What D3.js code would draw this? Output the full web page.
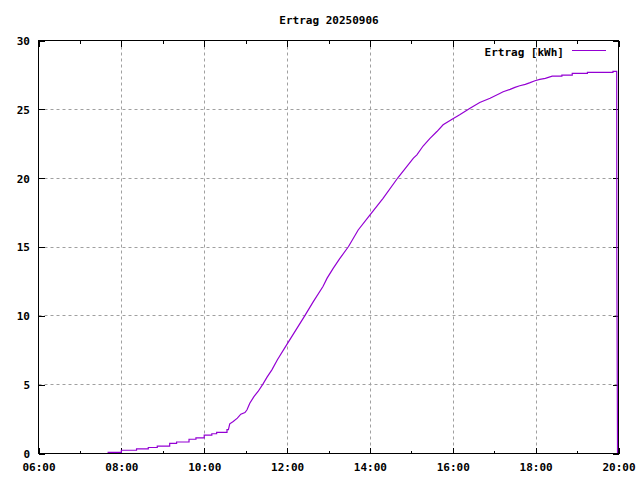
<!DOCTYPE html>
<html>
<head>
<meta charset="utf-8">
<script src="https://cdn.jsdelivr.net/npm/d3@7"></script>
<style>
  html, body { margin: 0; padding: 0; background: #fff; }
  svg { display: block; }
  text { font-family: "DejaVu Sans Mono", monospace; font-weight: bold; font-size: 11px; fill: #000; }
</style>
</head>
<body>
<svg id="chart" width="640" height="480"></svg>
<script>
const title = "Ertrag 20250906";
const seriesName = "Ertrag [kWh]";
const xTickLabels = ["06:00","08:00","10:00","12:00","14:00","16:00","18:00","20:00"];
const xMinorTicks = ["07:00","09:00","11:00","13:00","15:00","17:00","19:00"];
const yTickLabels = [0, 5, 10, 15, 20, 25, 30];

const times = ["07:40","08:00","08:00","08:22","08:22","08:39","08:39","08:52","08:52","09:10",
  "09:10","09:20","09:20","09:38","09:38","09:48","09:48","10:00","10:00","10:11",
  "10:11","10:18","10:18","10:33","10:33","10:35","10:37","10:42","10:48","10:53",
  "10:59","11:02","11:06","11:12","11:18","11:25","11:31","11:38","11:46","12:00",
  "12:26","12:38","12:52","12:58","13:07","13:16","13:29","13:43","13:59","14:19",
  "14:41","15:03","15:08","15:17","15:27","15:37","15:46","15:59","16:10","16:25",
  "16:39","16:54","17:08","17:13","17:23","17:30","17:37","17:45","17:52","17:59",
  "18:06","18:14","18:24","18:38","18:38","18:53","18:53","19:15","19:15","19:52",
  "19:52","19:57:25","19:57:35","19:58:35"];
const values = [0.05,0.05,0.2,0.2,0.3,0.3,0.4,0.4,0.5,0.5,
  0.7,0.7,0.8,0.8,1.0,1.0,1.1,1.1,1.3,1.3,
  1.4,1.4,1.5,1.5,1.7,1.7,2.12,2.29,2.53,2.82,
  2.94,3.14,3.62,4.10,4.47,5.0,5.51,6.04,6.77,7.91,
  10.0,11.0,12.09,12.7,13.43,14.1,15.0,16.2,17.23,18.5,
  20.03,21.42,21.66,22.3,22.85,23.35,23.84,24.25,24.57,25.05,
  25.46,25.77,26.12,26.24,26.41,26.56,26.68,26.78,26.9,27.04,
  27.14,27.21,27.38,27.38,27.45,27.45,27.57,27.57,27.65,27.65,
  27.72,27.72,13.9,0];

const parseHM = d3.timeParse("%H:%M");
const parseHMS = d3.timeParse("%H:%M:%S");
const parseT = s => (s.length > 5 ? parseHMS(s) : parseHM(s));
const fmt = d3.timeFormat("%H:%M");

const data = times.map((t, i) => ({ t: parseT(t), v: values[i] }));

const L = 38.5, R = 618.5, T = 40.5, B = 453.5;
const svg = d3.select("#chart");

const x = d3.scaleTime()
  .domain([parseT(xTickLabels[0]), parseT(xTickLabels[xTickLabels.length - 1])])
  .range([L, R]);
const y = d3.scaleLinear()
  .domain([yTickLabels[0], yTickLabels[yTickLabels.length - 1]])
  .range([B, T]);

const majorX = xTickLabels.map(parseT);
const minorX = xMinorTicks.map(parseT);

// grid
const grid = svg.append("g")
  .attr("stroke", "#a0a0a0").attr("stroke-width", 1).attr("stroke-dasharray", "3,3");
grid.selectAll("line.gx").data(majorX.slice(1, -1)).join("line")
  .attr("x1", d => Math.round(x(d)) + 0.5).attr("x2", d => Math.round(x(d)) + 0.5)
  .attr("y1", T).attr("y2", B);
grid.selectAll("line.gy").data(yTickLabels.slice(1, -1)).join("line")
  .attr("y1", d => Math.round(y(d) - 0.5) + 0.5).attr("y2", d => Math.round(y(d) - 0.5) + 0.5)
  .attr("x1", L).attr("x2", R);

// axes
function styleAxis(g) {
  g.select(".domain").remove();
  g.selectAll("line").attr("stroke", "#000").attr("shape-rendering", "crispEdges");
  g.selectAll("text").attr("font-family", null).attr("font-size", null).attr("fill", "#000");
}
const xb = svg.append("g").attr("transform", `translate(0,${B})`)
  .call(d3.axisBottom(x).tickValues(majorX).tickFormat(fmt).tickSize(-6).tickSizeOuter(0))
  .call(styleAxis);
xb.selectAll("text").attr("y", 17).attr("dy", null);
svg.append("g").attr("transform", `translate(0,${B})`)
  .call(d3.axisBottom(x).tickValues(minorX).tickFormat("").tickSize(-3).tickSizeOuter(0))
  .call(styleAxis);
svg.append("g").attr("transform", `translate(0,${T})`)
  .call(d3.axisTop(x).tickValues(majorX).tickFormat("").tickSize(-6).tickSizeOuter(0))
  .call(styleAxis);
svg.append("g").attr("transform", `translate(0,${T})`)
  .call(d3.axisTop(x).tickValues(minorX).tickFormat("").tickSize(-3).tickSizeOuter(0))
  .call(styleAxis);
const yl = svg.append("g").attr("transform", `translate(${L},0)`)
  .call(d3.axisLeft(y).tickValues(yTickLabels).tickSize(-6).tickSizeOuter(0))
  .call(styleAxis);
yl.selectAll("text").attr("x", -8.5).attr("dy", "0.36em");
svg.append("g").attr("transform", `translate(${R},0)`)
  .call(d3.axisRight(y).tickValues(yTickLabels).tickFormat("").tickSize(-6).tickSizeOuter(0))
  .call(styleAxis);

// border
svg.append("rect").attr("x", L).attr("y", T).attr("width", R - L).attr("height", B - T)
  .attr("fill", "none").attr("stroke", "#000").attr("stroke-width", 1);

// line
const line = d3.line().x(d => x(d.t)).y(d => y(d.v) - 0.5);
svg.append("path").datum(data)
  .attr("d", line).attr("fill", "none")
  .attr("stroke", "#9400d3").attr("stroke-width", 1.2);

// title
svg.append("text").attr("x", 329).attr("y", 24).attr("text-anchor", "middle").text(title);

// legend
svg.append("text").attr("x", 564).attr("y", 55.5).attr("text-anchor", "end").text(seriesName);
svg.append("line").attr("x1", 572).attr("x2", 606).attr("y1", 50.5).attr("y2", 50.5)
  .attr("stroke", "#9400d3").attr("stroke-width", 1.2);
</script>
</body>
</html>
